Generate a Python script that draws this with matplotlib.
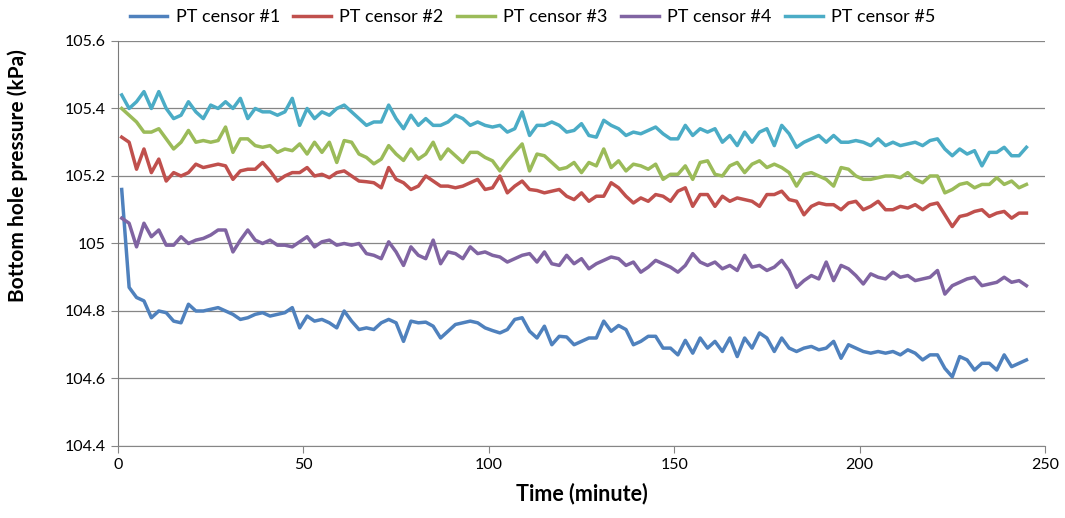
import matplotlib
matplotlib.use("Agg")
import matplotlib.pyplot as plt

# Sampling times (minutes)
minutes = list(range(1, 246, 2))

pt1 = [
    105.16, 104.87, 104.84, 104.83, 104.78, 104.80, 104.795, 104.77, 104.765, 104.82, 104.80,
    104.80, 104.805, 104.81, 104.80, 104.79, 104.775, 104.78, 104.79, 104.795, 104.785,
    104.79, 104.795, 104.81, 104.75, 104.785, 104.77, 104.775, 104.765, 104.75, 104.80, 104.77,
    104.745, 104.75, 104.745, 104.765, 104.775, 104.765, 104.71, 104.77, 104.765, 104.767,
    104.755, 104.72, 104.74, 104.76, 104.765, 104.77, 104.765, 104.75, 104.742, 104.735, 104.745,
    104.775, 104.78, 104.74, 104.72, 104.755, 104.70, 104.725, 104.723, 104.70, 104.71,
    104.72, 104.72, 104.77, 104.74, 104.757, 104.745, 104.70, 104.71, 104.725, 104.725, 104.69,
    104.69, 104.67, 104.713, 104.675, 104.72, 104.69, 104.71, 104.68, 104.72, 104.665,
    104.72, 104.69, 104.735, 104.72, 104.68, 104.72, 104.69, 104.68, 104.69, 104.695, 104.685,
    104.69, 104.71, 104.66, 104.70, 104.69, 104.68, 104.675, 104.68, 104.675, 104.68,
    104.67, 104.685, 104.675, 104.655, 104.67, 104.67, 104.63, 104.605, 104.665,
    104.655, 104.625, 104.645, 104.645, 104.625, 104.67, 104.635, 104.645, 104.655,
]

pt2 = [
    105.315, 105.30, 105.22, 105.28, 105.21, 105.25, 105.185, 105.21, 105.20, 105.21, 105.235,
    105.225, 105.23, 105.235, 105.23, 105.19, 105.215, 105.22, 105.22, 105.24, 105.215,
    105.185, 105.20, 105.21, 105.21, 105.225, 105.20, 105.205, 105.195, 105.21, 105.215, 105.20,
    105.185, 105.183, 105.18, 105.165, 105.225, 105.19, 105.18, 105.16, 105.17, 105.20,
    105.185, 105.17, 105.17, 105.165, 105.17, 105.18, 105.19, 105.16, 105.165, 105.20, 105.15,
    105.17, 105.185, 105.16, 105.157, 105.15, 105.155, 105.16, 105.14, 105.13, 105.15,
    105.125, 105.14, 105.14, 105.18, 105.165, 105.14, 105.12, 105.135, 105.125, 105.145, 105.14,
    105.125, 105.155, 105.165, 105.11, 105.145, 105.145, 105.11, 105.14, 105.125, 105.135,
    105.13, 105.125, 105.11, 105.145, 105.145, 105.155, 105.13, 105.125, 105.085, 105.11, 105.12,
    105.115, 105.115, 105.10, 105.12, 105.125, 105.10, 105.11, 105.125, 105.10, 105.10,
    105.11, 105.105, 105.115, 105.10, 105.115, 105.12, 105.085, 105.05, 105.08,
    105.085, 105.095, 105.10, 105.08, 105.09, 105.095, 105.075, 105.09, 105.09,
]

pt3 = [
    105.40, 105.38, 105.36, 105.33, 105.33, 105.34, 105.31, 105.28, 105.30, 105.335, 105.30,
    105.305, 105.30, 105.305, 105.345, 105.27, 105.31, 105.31, 105.29, 105.285, 105.29,
    105.27, 105.28, 105.275, 105.295, 105.265, 105.30, 105.27, 105.30, 105.24, 105.305, 105.30,
    105.265, 105.255, 105.236, 105.25, 105.29, 105.265, 105.246, 105.28, 105.25, 105.265,
    105.30, 105.25, 105.28, 105.26, 105.24, 105.27, 105.27, 105.255, 105.245, 105.215, 105.245,
    105.27, 105.295, 105.215, 105.265, 105.26, 105.24, 105.22, 105.225, 105.24, 105.21,
    105.24, 105.23, 105.28, 105.225, 105.245, 105.215, 105.235, 105.23, 105.22, 105.235, 105.19,
    105.205, 105.205, 105.23, 105.19, 105.24, 105.245, 105.205, 105.20, 105.23, 105.24,
    105.21, 105.235, 105.245, 105.225, 105.235, 105.225, 105.21, 105.17, 105.205, 105.21, 105.20,
    105.19, 105.17, 105.225, 105.22, 105.20, 105.19, 105.19, 105.195, 105.20, 105.20,
    105.195, 105.21, 105.19, 105.18, 105.20, 105.20, 105.15, 105.16, 105.175,
    105.18, 105.165, 105.175, 105.175, 105.195, 105.175, 105.185, 105.165, 105.175,
]

pt4 = [
    105.075, 105.06, 104.99, 105.06, 105.02, 105.04, 104.995, 104.995, 105.02, 105.00, 105.01,
    105.015, 105.025, 105.04, 105.04, 104.975, 105.01, 105.04, 105.01, 105.00, 105.01,
    104.995, 104.995, 104.99, 105.005, 105.02, 104.99, 105.005, 105.01, 104.995, 105.00, 104.995,
    105.00, 104.97, 104.965, 104.955, 105.005, 104.975, 104.935, 104.99, 104.965, 104.955,
    105.01, 104.94, 104.975, 104.97, 104.955, 104.99, 104.97, 104.975, 104.965, 104.96, 104.945,
    104.955, 104.965, 104.97, 104.945, 104.975, 104.94, 104.935, 104.965, 104.94, 104.955,
    104.925, 104.94, 104.95, 104.96, 104.955, 104.935, 104.945, 104.915, 104.93, 104.95, 104.94,
    104.93, 104.915, 104.935, 104.97, 104.945, 104.935, 104.945, 104.925, 104.935, 104.92,
    104.965, 104.93, 104.935, 104.92, 104.93, 104.95, 104.92, 104.87, 104.89, 104.905, 104.895,
    104.945, 104.89, 104.935, 104.925, 104.905, 104.88, 104.91, 104.90, 104.895, 104.915,
    104.90, 104.905, 104.89, 104.895, 104.90, 104.92, 104.85, 104.875, 104.885,
    104.895, 104.90, 104.875, 104.88, 104.885, 104.90, 104.885, 104.89, 104.875,
]

pt5 = [
    105.44, 105.40, 105.42, 105.45, 105.40, 105.45, 105.40, 105.37, 105.38, 105.42, 105.39,
    105.37, 105.41, 105.40, 105.42, 105.40, 105.43, 105.37, 105.40, 105.39, 105.39,
    105.38, 105.39, 105.43, 105.35, 105.40, 105.37, 105.39, 105.38, 105.40, 105.41, 105.39,
    105.37, 105.35, 105.36, 105.36, 105.41, 105.37, 105.34, 105.38, 105.35, 105.37,
    105.35, 105.35, 105.36, 105.38, 105.37, 105.35, 105.36, 105.35, 105.345, 105.35, 105.33,
    105.34, 105.39, 105.32, 105.35, 105.35, 105.36, 105.35, 105.33, 105.335, 105.355,
    105.32, 105.315, 105.365, 105.35, 105.34, 105.32, 105.33, 105.325, 105.335, 105.345, 105.325,
    105.31, 105.31, 105.35, 105.32, 105.34, 105.33, 105.34, 105.30, 105.32, 105.29,
    105.33, 105.30, 105.33, 105.34, 105.29, 105.35, 105.325, 105.285, 105.30, 105.31, 105.32,
    105.30, 105.32, 105.30, 105.30, 105.305, 105.30, 105.29, 105.31, 105.29, 105.30,
    105.29, 105.295, 105.30, 105.29, 105.305, 105.31, 105.28, 105.26, 105.28,
    105.265, 105.275, 105.23, 105.27, 105.27, 105.285, 105.26, 105.26, 105.285,
]

series_labels = ["PT censor #1", "PT censor #2", "PT censor #3", "PT censor #4", "PT censor #5"]
series_colors = ["#4F81BD", "#C0504D", "#9BBB59", "#8064A2", "#4BACC6"]
y_ticks = [104.4, 104.6, 104.8, 105.0, 105.2, 105.4, 105.6]
y_tick_labels = ["104.4", "104.6", "104.8", "105", "105.2", "105.4", "105.6"]
x_ticks = [0, 50, 100, 150, 200, 250]

plt.rcParams["font.family"] = ["Lato", "DejaVu Sans"]

fig = plt.figure(figsize=(10.65, 5.18), dpi=100)
ax = fig.add_axes([0.1108, 0.139, 0.8704, 0.7819])

for vals, lab, col in zip([pt1, pt2, pt3, pt4, pt5], series_labels, series_colors):
    ax.plot(minutes, vals, color=col, lw=2.5, label=lab, solid_joinstyle="round")

ax.set_xlim(0, 250)
ax.set_ylim(104.4, 105.6)
ax.set_xticks(x_ticks)
ax.set_yticks(y_ticks)
ax.set_yticklabels(y_tick_labels)
ax.yaxis.grid(True, color="#868686", lw=0.9)
ax.set_axisbelow(True)

for side in ("top", "right"):
    ax.spines[side].set_visible(False)
ax.spines["left"].set_color("#7a7a7a")
ax.spines["bottom"].set_color("#868686")
ax.tick_params(axis="both", direction="out", length=5, color="#868686",
               labelsize=11.5, labelcolor="#000000", pad=4)

ax.set_xlabel("Time (minute)", fontsize=15.5, fontweight="bold", labelpad=7)
ax.set_ylabel("Bottom hole pressure (kPa)", fontsize=15, fontweight="bold")
ax.yaxis.set_label_coords(-0.097, 0.667)

fig.legend(loc="upper center", bbox_to_anchor=(0.5, 1.014), ncol=5, frameon=False,
           fontsize=13, handlelength=2.1, handletextpad=0.45, columnspacing=0.75)

fig.savefig("out.png", dpi=100)
